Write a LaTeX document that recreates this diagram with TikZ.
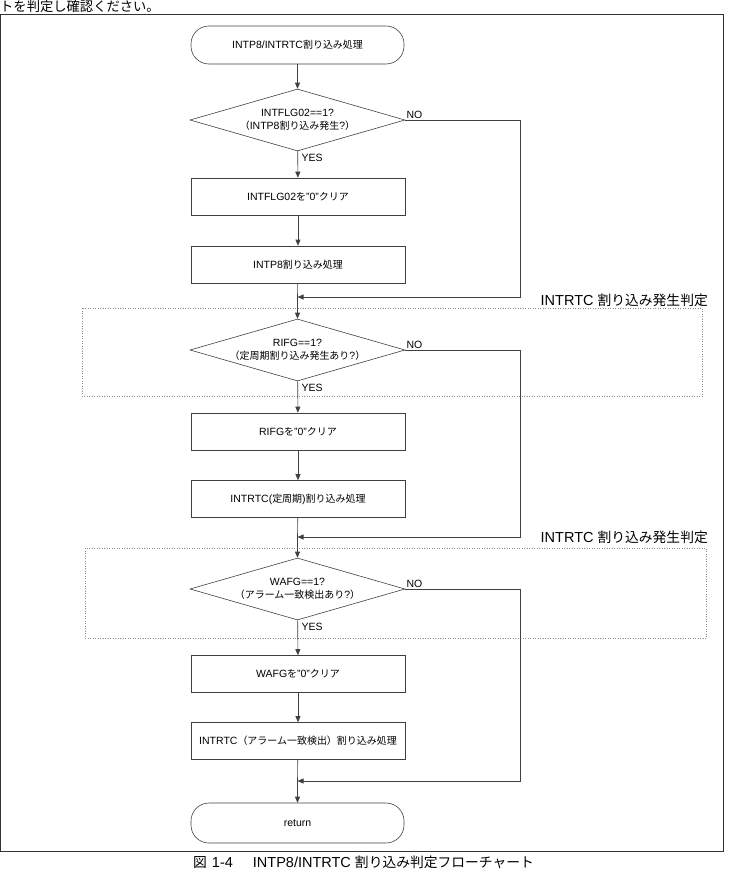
\documentclass[tikz,border=0pt]{standalone}
\usepackage{fontspec}
\setmainfont{Liberation Sans}
\newfontfamily\jp{Noto Sans CJK JP}[Scale=0.95]
\usetikzlibrary{shapes.geometric,arrows.meta}
\newcommand\J[1]{{\jp #1}}
\begin{document}
\begin{tikzpicture}[x=1pt,y=-1pt,
  line/.style={draw=black!75,line width=0.6pt},
  term/.style={line,rounded corners=18pt,minimum width=213pt,minimum height=38pt,inner sep=0pt,align=center,font=\fontsize{10.5}{13}\selectfont},
  proc/.style={line,minimum width=214pt,minimum height=37pt,inner sep=0pt,align=center,font=\fontsize{10.5}{13}\selectfont},
  dec/.style={line,diamond,minimum width=215pt,minimum height=62pt,aspect=3.47,inner sep=0pt,align=center,font=\fontsize{10.5}{13}\selectfont},
  arr/.style={line,-{Triangle[length=6pt,width=5pt]}},
  small/.style={inner sep=1pt,font=\fontsize{10.5}{12}\selectfont},
  group/.style={draw=black!45,dotted,line width=0.5pt},
  grouplabel/.style={inner sep=0pt,anchor=east,font=\fontsize{14.5}{16}\selectfont}
]
\useasboundingbox (0,0) rectangle (729,870);
% header text and frame
\node[anchor=west,inner sep=0pt,font=\fontsize{14}{16}\selectfont] (hdr) at (0,6) {\J{トを判定し確認ください。}};
\draw[draw=black!80,line width=1pt] (0.5,14.5) rectangle (723,851);
% nodes
\node[term] (start) at (297.5,45) {INTP8/INTRTC\J{割り込み処理}};
\node[dec] (d1) at (297.5,120) {INTFLG02==1?\\\J{（}INTP8\J{割り込み発生}?\J{）}};
\node[proc] (b1) at (298,196.5) {INTFLG02\J{を}”0”\J{クリア}};
\node[proc] (b2) at (298,264.5) {INTP8\J{割り込み処理}};
\coordinate (m1) at (297.5,297);
\draw[group] (82,308) rectangle (702,396);
\node[grouplabel] (g1) at (708,300) {INTRTC \J{割り込み発生判定}};
\node[dec] (d2) at (297.5,350) {RIFG==1?\\\J{（定周期割り込み発生あり}?\J{）}};
\node[proc] (b3) at (298,431.5) {RIFG\J{を}”0”\J{クリア}};
\node[proc] (b4) at (298,499) {INTRTC(\J{定周期})\J{割り込み処理}};
\coordinate (m2) at (297.5,537);
\draw[group] (85,548) rectangle (706,638);
\node[grouplabel] (g2) at (708,537) {INTRTC \J{割り込み発生判定}};
\node[dec] (d3) at (297.5,589) {WAFG==1?\\\J{（アラーム一致検出あり}?\J{）}};
\node[proc] (b5) at (298,674) {WAFG\J{を}”0”\J{クリア}};
\node[proc] (b6) at (298,741) {INTRTC\J{（アラーム一致検出）割り込み処理}};
\coordinate (m3) at (297.5,781);
\node[term,minimum height=40pt] (ret) at (297.5,823) {return};
% caption
\node[anchor=west,inner sep=0pt,font=\fontsize{14.5}{16}\selectfont] (cap) at (193,862) {\J{図}\hspace{5pt}1-4\hspace{20pt}INTP8/INTRTC \J{割り込み判定フローチャート}};
% connectors
\draw[arr] (start) -- (d1);
\draw[arr] (d1) -- (b1);
\draw[arr] (b1) -- (b2);
\draw[line] (b2) -- (m1);
\draw[arr] (m1) -- (d2);
\draw[arr] (d2) -- (b3);
\draw[arr] (b3) -- (b4);
\draw[line] (b4) -- (m2);
\draw[arr] (m2) -- (d3);
\draw[arr] (d3) -- (b5);
\draw[arr] (b5) -- (b6);
\draw[line] (b6) -- (m3);
\draw[arr] (m3) -- (ret);
\draw[arr] (d1.east) -| (520,297) -- (m1);
\draw[arr] (d2.east) -| (520,537) -- (m2);
\draw[arr] (d3.east) -| (520,781) -- (m3);
% labels
\node[small,anchor=south west] (no1) at (d1.east) {NO};
\node[small,anchor=south west] (no2) at (d2.east) {NO};
\node[small,anchor=south west] (no3) at (d3.east) {NO};
\node[small,anchor=west] (yes1) at ([xshift=3pt,yshift=-7pt]d1.south) {YES};
\node[small,anchor=west] (yes2) at ([xshift=3pt,yshift=-7pt]d2.south) {YES};
\node[small,anchor=west] (yes3) at ([xshift=3pt,yshift=-7pt]d3.south) {YES};
\end{tikzpicture}
\end{document}
